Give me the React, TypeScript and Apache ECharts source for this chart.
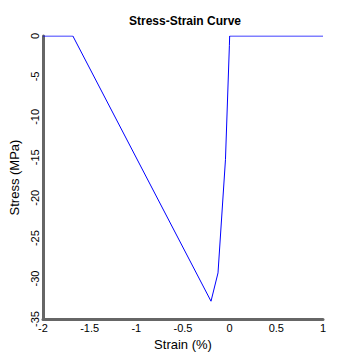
import React, { useEffect, useRef } from "react";
import * as echarts from "echarts";

const strain = [-2, -1.68, -0.2, -0.125, -0.045, -0.003, 0, 1];
const stress = [0, 0, -32.8, -29.3, -15.3, -1.2, 0, 0];
const title = "Stress-Strain Curve";
const xName = "Strain (%)";
const yName = "Stress (MPa)";

export default function App() {
  const ref = useRef<HTMLDivElement>(null);
  useEffect(() => {
    const chart = echarts.init(ref.current!, null, { renderer: "svg" });
    const font = "Liberation Sans, Arial, sans-serif";
    chart.setOption({
      animation: false,
      backgroundColor: "#ffffff",
      title: {
        text: title,
        left: 180,
        textAlign: "center",
        top: 10,
        textStyle: { fontSize: 12, fontWeight: "bold", color: "#000", fontFamily: font },
      },
      grid: { left: 37, top: 36, width: 286, height: 284 },
      xAxis: {
        type: "value",
        min: -2,
        max: 1,
        interval: 0.5,
        name: xName,
        nameLocation: "middle",
        nameGap: 19,
        nameTextStyle: { fontSize: 13, color: "#000", fontFamily: font },
        axisLine: { show: true, onZero: false, lineStyle: { color: "#666", width: 3 } },
        axisTick: { show: false },
        splitLine: { show: false },
        axisLabel: { fontSize: 11, color: "#000", margin: 3, fontFamily: font },
      },
      yAxis: {
        type: "value",
        min: -35,
        max: 0,
        interval: 5,
        name: yName,
        nameLocation: "middle",
        nameGap: 22,
        nameTextStyle: { fontSize: 13, color: "#000", fontFamily: font },
        axisLine: { show: true, onZero: false, lineStyle: { color: "#666", width: 3 } },
        axisTick: { show: false },
        splitLine: { show: false },
        axisLabel: { fontSize: 11, color: "#000", margin: 3, rotate: 90, fontFamily: font },
      },
      series: [
        {
          type: "line",
          data: strain.map((x, i) => [x, stress[i]]),
          showSymbol: false,
          lineStyle: { color: "#0000ff", width: 1 },
        },
      ],
    });
    return () => chart.dispose();
  }, []);
  return (
    <div
      ref={ref}
      style={{ position: "fixed", left: 0, top: 0, width: 337, height: 356 }}
    />
  );
}
